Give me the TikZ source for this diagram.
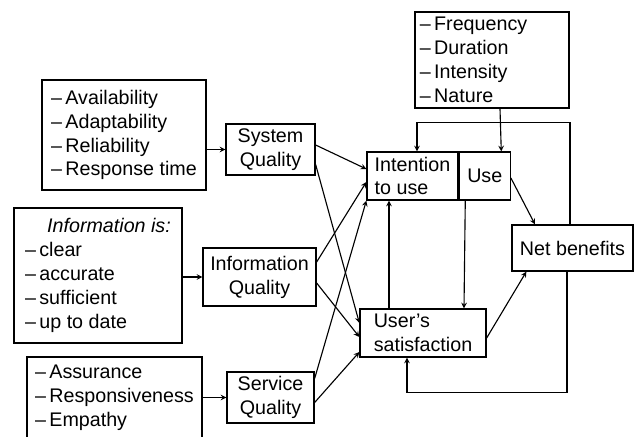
\documentclass[tikz,border=0pt]{standalone}
\usepackage{fontspec}
\setmainfont{Liberation Sans}
\usetikzlibrary{calc,positioning,arrows}
\tikzstyle{attr} = [rectangle, draw=black, line width=0.9pt, align=left, inner sep=2pt]
\tikzstyle{quality} = [rectangle, draw=black, line width=0.9pt, align=center, inner sep=2pt]
\tikzstyle{arrow} = [line width=0.8pt,->,>=stealth]

\begin{document}
\begin{tikzpicture}[x=0.025cm, y=-0.025cm, font=\fontsize{14}{17}\selectfont]
	\useasboundingbox (0,0) rectangle (634,436);

	\node (sysattr) [attr, minimum width=4.1cm, minimum height=2.75cm] at (124,135)
		{--\,Availability\\--\,Adaptability\\--\,Reliability\\--\,Response time};
	\node (sysq) [quality, minimum width=2.225cm, minimum height=1.275cm] at (270.5,149.5) {System\\Quality};

	\node (infoattr) [attr, minimum width=4.2cm, minimum height=3.375cm] at (98,275.5)
		{\hspace*{0.55cm}\textit{Information is:}\\--\,clear\\--\,accurate\\--\,sufficient\\--\,up to date};
	\node (infoq) [quality, minimum width=2.825cm, minimum height=1.45cm] at (259.5,277) {Information\\Quality};

	\node (servattr) [attr, minimum width=4.375cm, minimum height=2.025cm] at (114.5,397.5)
		{--\,Assurance\\--\,Responsiveness\\--\,Empathy};
	\node (servq) [quality, minimum width=2.175cm, minimum height=1.275cm] at (270.5,397.5) {Service\\Quality};

	\node (usagattr) [attr, text width=3.6cm, minimum width=3.85cm, minimum height=2.4cm] at (492,60)
		{--\,Frequency\\--\,Duration\\--\,Intensity\\--\,Nature};

	\node (intent) [attr, minimum width=2.275cm, minimum height=1.2cm] at (412.5,176) {Intention\\to use};
	\node (use) [quality, minimum width=1.275cm, minimum height=1.2cm, right=0pt of intent] {Use};
	\node (netben) [quality, minimum width=3.025cm, minimum height=1.15cm] at (572.5,248) {Net benefits};
	\node (usersat) [attr, minimum width=3.15cm, minimum height=1.2cm] at (423,333) {User's\\satisfaction};

	\draw[arrow] (sysattr.east |- sysq.west) -- (sysq.west);
	\draw[arrow] (infoattr.east |- infoq.west) -- (infoq.west);
	\draw[arrow] (servattr.east |- servq.west) -- (servq.west);

	\draw[arrow] ($(sysq.east)+(0,-4.5)$) -- ($(intent.west)+(0,-7)$);
	\draw[arrow] ($(sysq.east)+(0,15)$) -- ($(usersat.west)+(0,-10)$);
	\draw[arrow] ($(infoq.east)+(0,-15)$) -- ($(intent.west)+(0,6)$);
	\draw[arrow] ($(infoq.east)+(0,6)$) -- ($(usersat.west)+(0,4)$);
	\draw[arrow] ($(servq.east)+(0,-19)$) -- (intent.south west);
	\draw[arrow] ($(servq.east)+(0,5)$) -- ($(usersat.west)+(0,19)$);

	\draw[arrow] ($(usagattr.south)+(8,0)$) -- ($(use.north)+(16.5,0)$);
	\draw[arrow] ($(usersat.north)+(-34,0)$) -- ($(intent.south)+(-23.5,0)$);
	\draw[arrow] ($(use.south)+(-19.5,0)$) -- ($(usersat.north)+(41,0)$);
	\draw[arrow] ($(use.east)+(0,2)$) -- ($(netben.north)+(-37.5,0)$);
	\draw[arrow] ($(usersat.east)+(0,5)$) -- ($(netben.south west)+(15,0)$);

	% feedback loops
	\draw[arrow] ($(netben.north)+(-2.5,0)$) -- ++(0,-102) -| ($(intent.north)+(4.5,0)$);
	\draw[arrow] ($(netben.south)+(-5.5,0)$) -- ++(0,121) -| ($(usersat.south)+(-16,0)$);

\end{tikzpicture}
\end{document}
